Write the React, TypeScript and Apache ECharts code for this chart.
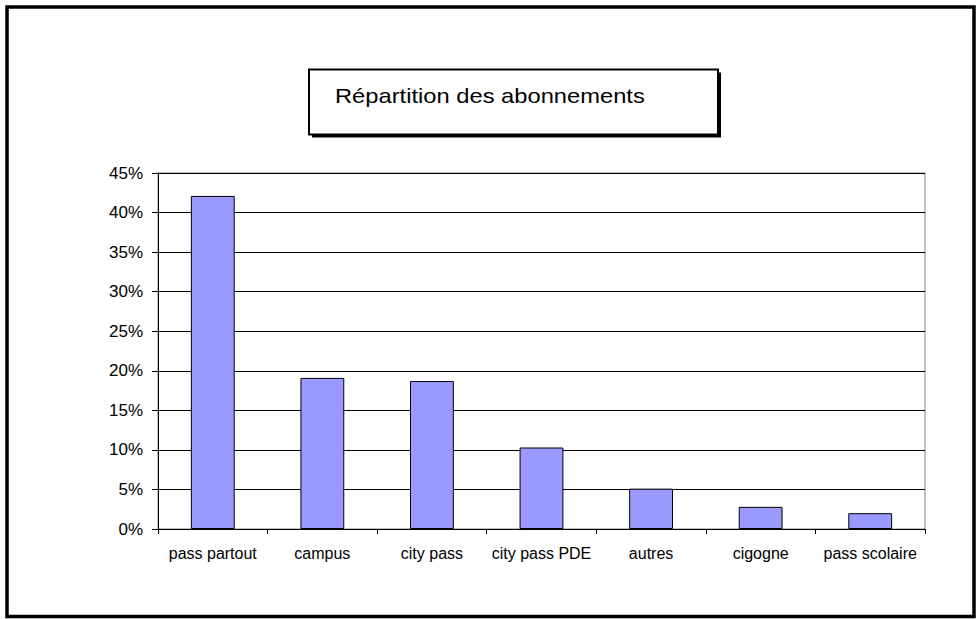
import React, { useEffect, useRef } from "react";
import * as echarts from "echarts";

const categories = ["pass partout", "campus", "city pass", "city pass PDE", "autres", "cigogne", "pass scolaire"];
const shares = [42.1, 19.1, 18.7, 10.3, 5.1, 2.8, 2.0];
const titleText = "Répartition des abonnements";
const yMin = 0;
const yMax = 45;
const yStep = 5;

const FONT = "'Liberation Sans', Arial, sans-serif";

export default function App() {
  const ref = useRef<HTMLDivElement>(null);
  useEffect(() => {
    if (!ref.current) return;
    const chart = echarts.init(ref.current, null, { renderer: "svg" });
    chart.setOption({
      animation: false,
      backgroundColor: "#ffffff",
      grid: {
        left: 158,
        top: 173,
        right: 52,
        bottom: 90,
        show: true,
        borderColor: "#808080",
        borderWidth: 1,
        backgroundColor: "transparent",
      },
      xAxis: {
        type: "category",
        data: categories,
        axisLine: { show: true, lineStyle: { color: "#000", width: 1 } },
        axisTick: { show: true, length: 5, lineStyle: { color: "#000" }, alignWithLabel: false },
        axisLabel: { color: "#000", fontSize: 16, fontFamily: FONT, margin: 16, interval: 0 },
        splitLine: { show: false },
      },
      yAxis: {
        type: "value",
        min: yMin,
        max: yMax,
        interval: yStep,
        axisLine: { show: true, lineStyle: { color: "#000", width: 1 } },
        axisTick: { show: true, length: 6, inside: false, lineStyle: { color: "#000" } },
        axisLabel: { color: "#000", fontSize: 17, fontFamily: FONT, margin: 15, formatter: "{value}%" },
        splitLine: { show: true, lineStyle: { color: "#000", width: 1 } },
      },
      series: [
        {
          type: "bar",
          data: shares,
          barCategoryGap: "60%",
          itemStyle: { color: "#9999FF", borderColor: "#000", borderWidth: 1 },
          emphasis: { disabled: true },
        },
      ],
      graphic: [
        {
          type: "rect",
          shape: { x: 7, y: 7, width: 967, height: 609.5 },
          style: { fill: "none", stroke: "#000", lineWidth: 3.5 },
          silent: true,
          z: 0,
        },
        {
          type: "rect",
          shape: { x: 312, y: 72.5, width: 409, height: 65 },
          style: { fill: "#000" },
          silent: true,
          z: 10,
        },
        {
          type: "rect",
          shape: { x: 309, y: 69.5, width: 409, height: 65 },
          style: { fill: "#fff", stroke: "#000", lineWidth: 2 },
          silent: true,
          z: 11,
        },
        {
          type: "text",
          x: 335,
          y: 96,
          scaleX: 1.13,
          style: {
            text: titleText,
            fontSize: 21,
            fontFamily: FONT,
            fill: "#000",
            textAlign: "left",
            textVerticalAlign: "middle",
          },
          silent: true,
          z: 12,
        },
      ],
    });
    return () => chart.dispose();
  }, []);
  return (
    <div
      ref={ref}
      style={{ position: "absolute", left: 0, top: 0, width: 977, height: 619, background: "#fff" }}
    />
  );
}
